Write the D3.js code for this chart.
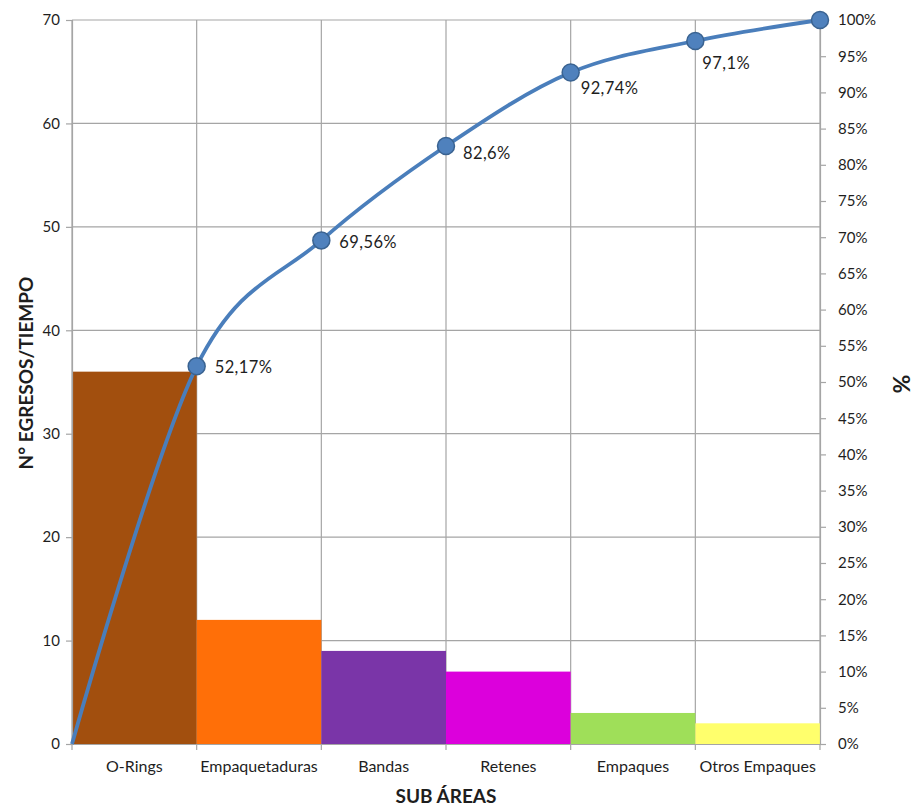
<!DOCTYPE html>
<html>
<head>
<meta charset="utf-8">
<script src="https://cdn.jsdelivr.net/npm/d3@7"></script>
<style>
  html, body { margin: 0; padding: 0; background: #fff; }
  svg { display: block; }
  text { font-family: Lato, "Open Sans", sans-serif; fill: #1e1e1e; }
</style>
</head>
<body>
<svg id="chart" width="914" height="807"></svg>
<script>
// Pareto data: defect counts per sub-area and cumulative share
const categories = ["O-Rings", "Empaquetaduras", "Bandas", "Retenes", "Empaques", "Otros Empaques"];
const counts = [36, 12, 9, 7, 3, 2];
const cumulativePct = [52.17, 69.56, 82.6, 92.74, 97.1, 100];
const pctLabels = ["52,17%", "69,56%", "82,6%", "92,74%", "97,1%", ""];
const barColors = ["#A24F0E", "#FF6F08", "#7A35A8", "#DC00DC", "#9FDF59", "#FFFF6C"];
const leftTicks = [0, 10, 20, 30, 40, 50, 60, 70];
const rightTicks = d3.range(0, 101, 5);

const svg = d3.select("#chart");
const m = { left: 72, right: 820, top: 20, bottom: 744 };

const x = d3.scaleBand().domain(categories).range([m.left, m.right]).padding(0);
const y = d3.scaleLinear().domain([0, 70]).range([m.bottom, m.top]);
const y2 = d3.scaleLinear().domain([0, 100]).range([m.bottom, m.top]);
// continuous position along the category axis for the cumulative line
const xs = d3.scaleLinear().domain([0, categories.length]).range([m.left, m.right]);

const grid = "#A5A5A5";

// horizontal gridlines
svg.append("g").selectAll("line").data(leftTicks).join("line")
  .attr("x1", m.left).attr("x2", m.right)
  .attr("y1", d => y(d)).attr("y2", d => y(d))
  .attr("stroke", grid).attr("stroke-width", 1.2);

// vertical gridlines at category boundaries
svg.append("g").selectAll("line").data(d3.range(0, categories.length + 1)).join("line")
  .attr("x1", i => xs(i)).attr("x2", i => xs(i))
  .attr("y1", m.top).attr("y2", m.bottom)
  .attr("stroke", grid).attr("stroke-width", 1.2);

// bars
svg.append("g").selectAll("rect").data(counts).join("rect")
  .attr("x", (d, i) => x(categories[i]))
  .attr("width", x.bandwidth())
  .attr("y", d => y(d))
  .attr("height", d => y(0) - y(d))
  .attr("fill", (d, i) => barColors[i]);

// left axis
const leftAxis = svg.append("g").attr("transform", `translate(${m.left},0)`)
  .call(d3.axisLeft(y).tickValues(leftTicks).tickSize(6).tickPadding(6));
leftAxis.select(".domain").attr("stroke", grid).attr("stroke-width", 1.2);
leftAxis.selectAll(".tick line").attr("stroke", grid).attr("stroke-width", 1.2);
leftAxis.selectAll(".tick text").attr("font-size", 15).attr("fill", "#1e1e1e")
  .attr("font-family", "Lato, sans-serif");

// right axis
const rightAxis = svg.append("g").attr("transform", `translate(${m.right},0)`)
  .call(d3.axisRight(y2).tickValues(rightTicks).tickFormat(d => d + "%").tickSize(6).tickPadding(12));
rightAxis.select(".domain").attr("stroke", grid).attr("stroke-width", 1.2);
rightAxis.selectAll(".tick line").attr("stroke", grid).attr("stroke-width", 1.2);
rightAxis.selectAll(".tick text").attr("font-size", 15).attr("fill", "#1e1e1e")
  .attr("font-family", "Lato, sans-serif");

// bottom axis
const bottomAxis = svg.append("g").attr("transform", `translate(0,${m.bottom})`)
  .call(d3.axisBottom(x).tickSize(0).tickPadding(17));
bottomAxis.select(".domain").attr("stroke", grid).attr("stroke-width", 1.2);
bottomAxis.selectAll(".tick text").attr("font-size", 16).attr("fill", "#1e1e1e")
  .attr("font-family", "Lato, sans-serif");
svg.append("g").selectAll("line").data(d3.range(0, categories.length + 1)).join("line")
  .attr("x1", i => xs(i)).attr("x2", i => xs(i))
  .attr("y1", m.bottom).attr("y2", m.bottom + 6)
  .attr("stroke", grid).attr("stroke-width", 1.2);

// cumulative line, starting from the origin
const linePts = [[0, 0]].concat(cumulativePct.map((p, i) => [i + 1, p]));
const line = d3.line().x(d => xs(d[0])).y(d => y2(d[1])).curve(d3.curveCardinal.tension(0));
svg.append("path").datum(linePts)
  .attr("d", line).attr("fill", "none")
  .attr("stroke", "#4A7EBB").attr("stroke-width", 3.8);

svg.append("g").selectAll("circle").data(cumulativePct).join("circle")
  .attr("cx", (d, i) => xs(i + 1)).attr("cy", d => y2(d))
  .attr("r", 8.5).attr("fill", "#4F81BD").attr("stroke", "#3A6391").attr("stroke-width", 1.5);

// value labels beside the markers
const labelShift = [[18, 1], [18, 2], [17, 7], [10, 16], [7, 22], [0, 0]];
svg.append("g").selectAll("text").data(cumulativePct).join("text")
  .attr("x", (d, i) => xs(i + 1) + labelShift[i][0])
  .attr("y", (d, i) => y2(d) + labelShift[i][1])
  .attr("dy", "0.35em")
  .attr("font-size", 16.5)
  .attr("letter-spacing", 0.4)
  .text((d, i) => pctLabels[i]);

// axis titles
svg.append("text").attr("x", (m.left + m.right) / 2).attr("y", 803)
  .attr("text-anchor", "middle").attr("font-size", 19).attr("font-weight", "bold")
  .attr("fill", "#000").text("SUB ÁREAS");
svg.append("text").attr("transform", "translate(33,373) rotate(-90)")
  .attr("text-anchor", "middle").attr("font-size", 19).attr("font-weight", "bold")
  .attr("fill", "#000").text("N° EGRESOS/TIEMPO");
svg.append("text").attr("transform", "translate(910,384) rotate(-90)")
  .attr("text-anchor", "middle").attr("font-size", 23).attr("font-weight", "bold")
  .attr("fill", "#000").text("%");
</script>
</body>
</html>
